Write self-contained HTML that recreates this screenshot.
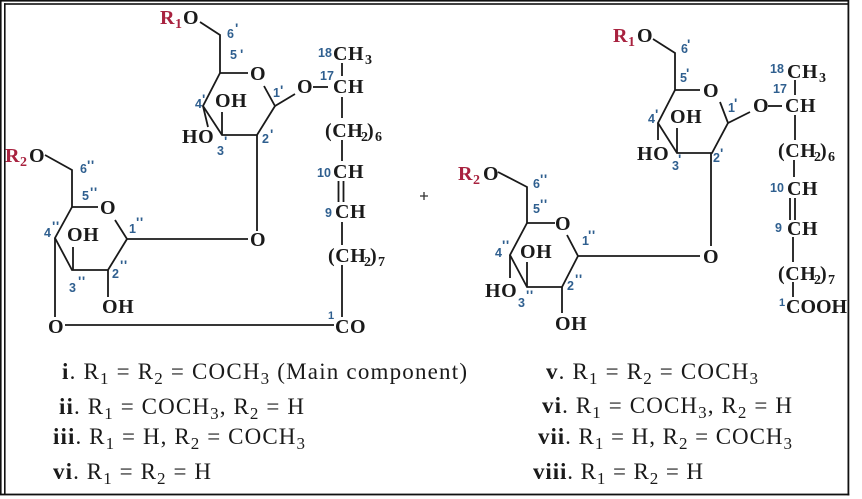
<!DOCTYPE html>
<html><head><meta charset="utf-8"><style>
html,body{margin:0;padding:0;background:#fff;}
svg{display:block;}
.st{font-family:"Liberation Serif",serif;font-weight:bold;font-size:20px;fill:#1a1a1a;letter-spacing:0.6px;}
.sb{font-size:14px;}
.red{fill:#a8223f;}
.lb{font-family:"Liberation Sans",sans-serif;font-weight:bold;font-size:12.5px;fill:#2f5f8f;}
.pr{font-family:"Liberation Sans",sans-serif;font-weight:bold;font-size:14px;fill:#2f5f8f;letter-spacing:0.5px;}
.t{font-family:"Liberation Serif",serif;font-size:23px;fill:#1a1a1a;white-space:pre;}
.s{font-size:17px;}
</style></head><body>
<svg width="862" height="499" viewBox="0 0 862 499" xmlns="http://www.w3.org/2000/svg">
<rect width="862" height="499" fill="#fff"/>
<!-- frame -->
<g fill="#111">
<rect x="0" y="0" width="849" height="1.6"/>
<rect x="4" y="3.2" width="845" height="1.6"/>
<rect x="0" y="0" width="1.6" height="495"/>
<rect x="4" y="3.2" width="1.6" height="491"/>
<rect x="847.5" y="0" width="1.8" height="495.5"/>
<rect x="0" y="493.6" width="849.3" height="1.8"/>
</g>
<!-- bonds -->
<g stroke="#1a1a1a" stroke-width="1.8" fill="none">
<path d="M200,22 L220,35 L220,73 L248,73"/>
<path d="M264,86 L275,106 L295,94"/>
<path d="M313,87 L328,87"/>
<path d="M342,63 V76 M342,97 V118 M342,140 V161"/>
<path d="M338.5,181 V202 M343.5,181 V202"/>
<path d="M342,222 V245 M342,265 V317"/>
<path d="M220,73 L203,106 L222,135 L257,135 L275,106"/>
<path d="M222,112 V135 M203,106 L208,127 M257,135 V231"/>
<path d="M45,155 L72,170 L72,207 L98,207"/>
<path d="M115,220 L127,239 L248,239"/>
<path d="M72,207 L55,238 L72,270 L108,270 L127,239"/>
<path d="M73,247 V270 M108,270 V297 M55,238 V317"/>
<path d="M65,325 H334"/>

<path d="M653,39 L675,53 L675,90 L700,90"/>
<path d="M720,102 L728,123 L750,112"/>
<path d="M768,106 H782"/>
<path d="M795,80 V95 M795,115 V140 M794,160 V177"/>
<path d="M790,198 V220 M795,198 V220"/>
<path d="M793,237 V262 M793,282 V297"/>
<path d="M675,90 L658,123 L677,153 L712,153 L728,123"/>
<path d="M677,128 V153 M658,123 V140 M711,153 V246"/>
<path d="M498,172 L527,187 L527,223 L555,223"/>
<path d="M567,235 L578,256 L700,256"/>
<path d="M527,223 L510,255 L527,287 L562,287 L578,256"/>
<path d="M527,262 V287 M510,255 V278 M562,287 V313"/>
<path d="M420,196 H428 M424,192 V200" stroke="#333" stroke-width="1.3"/>
</g>

<!-- left structure atoms -->
<g class="st">
<text x="160" y="24" class="red">R</text><text x="175" y="28" class="sb red">1</text><text x="183" y="24">O</text>
<text x="215" y="107">OH</text>
<text x="182" y="143">HO</text>
<text x="250" y="80">O</text>
<text x="297" y="93">O</text>
<text x="333" y="93">CH</text>
<text x="333" y="60">CH</text><text x="365" y="64" class="sb">3</text>
<text x="325" y="137">(CH</text><text x="361" y="141" class="sb">2</text><text x="367" y="137">)</text><text x="375" y="141" class="sb">6</text>
<text x="333" y="178">CH</text>
<text x="335" y="218">CH</text>
<text x="328" y="262">(CH</text><text x="364" y="266" class="sb">2</text><text x="370" y="262">)</text><text x="378" y="266" class="sb">7</text>
<text x="335" y="333">CO</text>
<text x="5" y="162" class="red">R</text><text x="20" y="166" class="sb red">2</text><text x="29" y="162">O</text>
<text x="100" y="214">O</text>
<text x="67" y="241">OH</text>
<text x="250" y="246">O</text>
<text x="102" y="313">OH</text>
<text x="48" y="333">O</text>
</g>

<!-- right structure atoms -->
<g class="st">
<text x="613" y="42" class="red">R</text><text x="628" y="46" class="sb red">1</text><text x="637" y="42">O</text>
<text x="703" y="97">O</text>
<text x="753" y="112">O</text>
<text x="785" y="112">CH</text>
<text x="787" y="78">CH</text><text x="819" y="82" class="sb">3</text>
<text x="778" y="157">(CH</text><text x="814" y="161" class="sb">2</text><text x="820" y="157">)</text><text x="828" y="161" class="sb">6</text>
<text x="787" y="195">CH</text>
<text x="787" y="235">CH</text>
<text x="778" y="280">(CH</text><text x="814" y="284" class="sb">2</text><text x="820" y="280">)</text><text x="828" y="284" class="sb">7</text>
<text x="786" y="313" style="letter-spacing:0">COOH</text>
<text x="670" y="123">OH</text>
<text x="637" y="160">HO</text>
<text x="458" y="180" class="red">R</text><text x="473" y="184" class="sb red">2</text><text x="483" y="180">O</text>
<text x="555" y="230">O</text>
<text x="703" y="263">O</text>
<text x="520" y="258">OH</text>
<text x="485" y="297">HO</text>
<text x="555" y="330">OH</text>
</g>

<!-- blue numbering -->
<g class="lb">
<text x="227" y="38">6</text>
<text x="230" y="59">5</text>
<text x="195" y="108">4</text>
<text x="273" y="97">1</text>
<text x="217" y="155">3</text>
<text x="262" y="143">2</text>
<text x="320" y="80">17</text>
<text x="318" y="57">18</text>
<text x="317" y="177">10</text>
<text x="325" y="217">9</text>
<text x="328" y="319" style="font-size:11px">1</text>
<text x="80" y="173">6</text>
<text x="82" y="200">5</text>
<text x="129" y="233">1</text>
<text x="44" y="237">4</text>
<text x="69" y="292">3</text>
<text x="112" y="278">2</text>

<text x="681" y="53">6</text>
<text x="680" y="82">5</text>
<text x="728" y="112">1</text>
<text x="648" y="123">4</text>
<text x="672" y="170">3</text>
<text x="713" y="162">2</text>
<text x="770" y="73">18</text>
<text x="773" y="93">17</text>
<text x="770" y="192">10</text>
<text x="775" y="232">9</text>
<text x="779" y="306" style="font-size:11px">1</text>
<text x="533" y="188">6</text>
<text x="533" y="213">5</text>
<text x="582" y="245">1</text>
<text x="495" y="257">4</text>
<text x="518" y="307">3</text>
<text x="567" y="290">2</text>
</g>
<!-- primes -->
<g class="pr">
<text x="235" y="33">'</text>
<text x="240" y="59">'</text>
<text x="202" y="104">'</text>
<text x="280" y="95">'</text>
<text x="224" y="146">'</text>
<text x="270" y="139">'</text>
<text x="87" y="170">''</text>
<text x="90" y="197">''</text>
<text x="136" y="227">''</text>
<text x="52" y="231">''</text>
<text x="78" y="286">''</text>
<text x="120" y="270">''</text>

<text x="687" y="49">'</text>
<text x="686" y="78">'</text>
<text x="734" y="108">'</text>
<text x="655" y="119">'</text>
<text x="678" y="164">'</text>
<text x="720" y="158">'</text>
<text x="540" y="184">''</text>
<text x="540" y="209">''</text>
<text x="588" y="240">''</text>
<text x="502" y="250">''</text>
<text x="526" y="300">''</text>
<text x="575" y="284">''</text>
</g>

<!-- legend -->
<text class="t" x="62" y="379" textLength="405" lengthAdjust="spacing"><tspan font-weight="bold">i</tspan>. R<tspan class="s" dy="5">1</tspan><tspan dy="-5"> = R</tspan><tspan class="s" dy="5">2</tspan><tspan dy="-5"> = COCH</tspan><tspan class="s" dy="5">3</tspan><tspan dy="-5"> (Main component)</tspan></text>
<text class="t" x="59" y="414" textLength="245" lengthAdjust="spacing"><tspan font-weight="bold">ii</tspan>. R<tspan class="s" dy="5">1</tspan><tspan dy="-5"> = COCH</tspan><tspan class="s" dy="5">3</tspan><tspan dy="-5">, R</tspan><tspan class="s" dy="5">2</tspan><tspan dy="-5"> = H</tspan></text>
<text class="t" x="53" y="444" textLength="252" lengthAdjust="spacing"><tspan font-weight="bold">iii</tspan>. R<tspan class="s" dy="5">1</tspan><tspan dy="-5"> = H, R</tspan><tspan class="s" dy="5">2</tspan><tspan dy="-5"> = COCH</tspan><tspan class="s" dy="5">3</tspan></text>
<text class="t" x="53" y="479" textLength="158" lengthAdjust="spacing"><tspan font-weight="bold">vi</tspan>. R<tspan class="s" dy="5">1</tspan><tspan dy="-5"> = R</tspan><tspan class="s" dy="5">2</tspan><tspan dy="-5"> = H</tspan></text>

<text class="t" x="546" y="379" textLength="212" lengthAdjust="spacing"><tspan font-weight="bold">v</tspan>. R<tspan class="s" dy="5">1</tspan><tspan dy="-5"> = R</tspan><tspan class="s" dy="5">2</tspan><tspan dy="-5"> = COCH</tspan><tspan class="s" dy="5">3</tspan></text>
<text class="t" x="542" y="413" textLength="250" lengthAdjust="spacing"><tspan font-weight="bold">vi</tspan>. R<tspan class="s" dy="5">1</tspan><tspan dy="-5"> = COCH</tspan><tspan class="s" dy="5">3</tspan><tspan dy="-5">, R</tspan><tspan class="s" dy="5">2</tspan><tspan dy="-5"> = H</tspan></text>
<text class="t" x="538" y="444" textLength="254" lengthAdjust="spacing"><tspan font-weight="bold">vii</tspan>. R<tspan class="s" dy="5">1</tspan><tspan dy="-5"> = H, R</tspan><tspan class="s" dy="5">2</tspan><tspan dy="-5"> = COCH</tspan><tspan class="s" dy="5">3</tspan></text>
<text class="t" x="533" y="479" textLength="170" lengthAdjust="spacing"><tspan font-weight="bold">viii</tspan>. R<tspan class="s" dy="5">1</tspan><tspan dy="-5"> = R</tspan><tspan class="s" dy="5">2</tspan><tspan dy="-5"> = H</tspan></text>
</svg>
</body></html>
